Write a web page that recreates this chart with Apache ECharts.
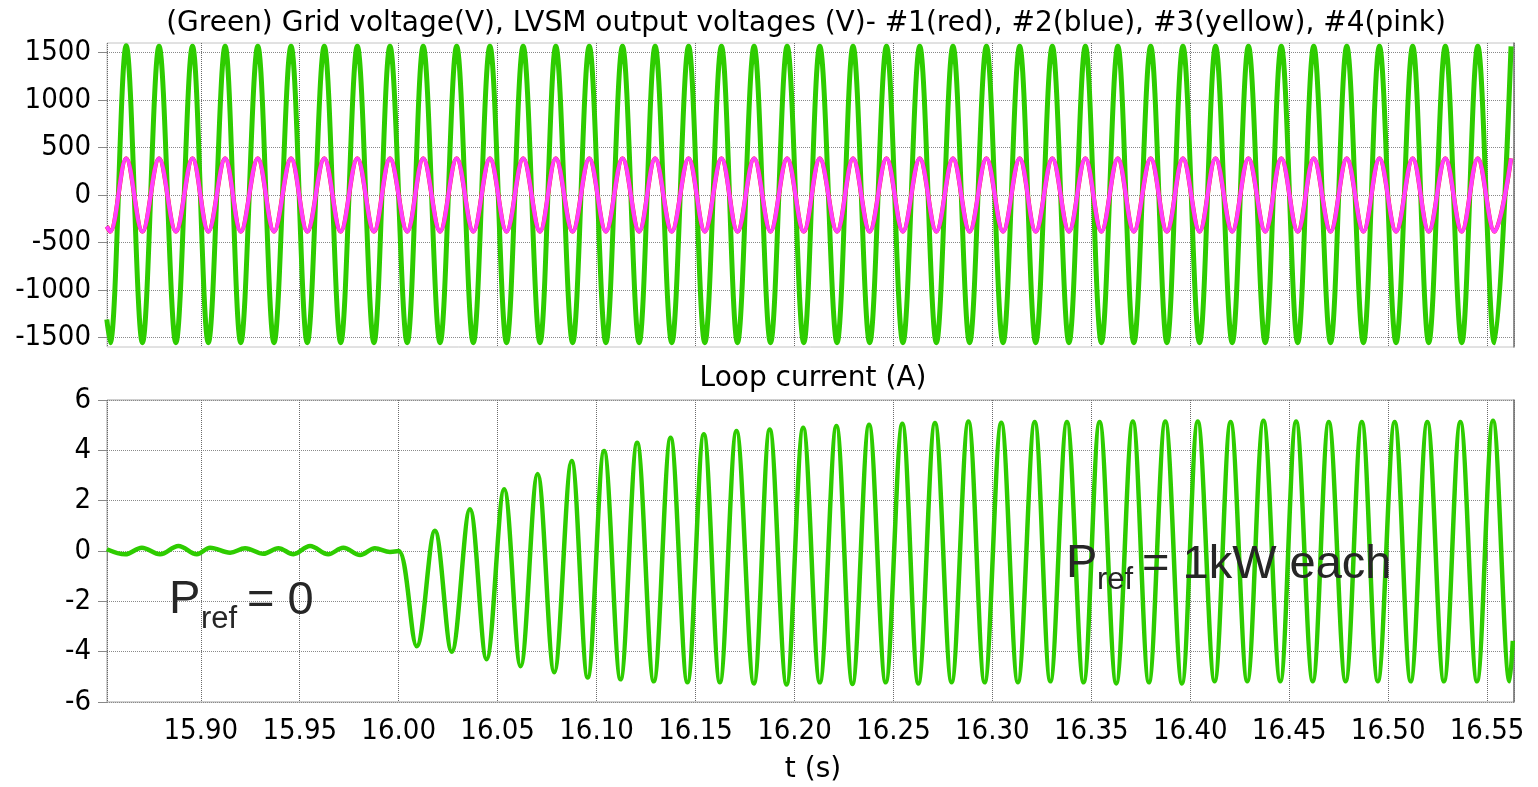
<!DOCTYPE html>
<html>
<head>
<meta charset="utf-8">
<script src="https://cdn.jsdelivr.net/npm/echarts@6.0.0/dist/echarts.min.js"></script>
<style>
html,body{margin:0;padding:0;background:#ffffff;}
#chart{width:1538px;height:787px;}
</style>
</head>
<body>
<div id="chart"></div>
<script>
// ---------- data ----------
// Extremum times (s) of the grid / LVSM voltages (they are in phase)
const voltTimes = [
  15.8525,
  15.8542, 15.8623, 15.8705, 15.8789, 15.8874, 15.8958, 15.9038, 15.9123, 15.9202, 15.9288,
  15.9370, 15.9456, 15.9538, 15.9624, 15.9707, 15.9791, 15.9875, 15.9956, 16.0043, 16.0124,
  16.0209, 16.0293, 16.0377, 16.0461, 16.0545, 16.0629, 16.0714, 16.0794, 16.0879, 16.0963,
  16.1047, 16.1131, 16.1215, 16.1296, 16.1380, 16.1465, 16.1547, 16.1631, 16.1712, 16.1796,
  16.1879, 16.1963, 16.2047, 16.2128, 16.2215, 16.2296, 16.2380, 16.2465, 16.2548, 16.2633,
  16.2717, 16.2801, 16.2885, 16.2970, 16.3054, 16.3138, 16.3219, 16.3303, 16.3387, 16.3470,
  16.3551, 16.3634, 16.3715, 16.3800, 16.3882, 16.3963, 16.4047, 16.4128, 16.4212, 16.4294,
  16.4379, 16.4460, 16.4543, 16.4624, 16.4709, 16.4791, 16.4875, 16.4956, 16.5040, 16.5124,
  16.5205, 16.5289, 16.5372, 16.5453, 16.5537, 16.5621
];
// Grid voltage (V), green
const gridVoltage = [
  -1310,
  -1555, 1570, -1555, 1565, -1555, 1565, -1555, 1565, -1555, 1565,
  -1555, 1565, -1555, 1565, -1555, 1565, -1555, 1565, -1555, 1565,
  -1555, 1565, -1555, 1565, -1555, 1565, -1555, 1565, -1555, 1565,
  -1555, 1565, -1555, 1565, -1555, 1565, -1555, 1565, -1555, 1565,
  -1555, 1565, -1555, 1565, -1555, 1565, -1555, 1565, -1555, 1565,
  -1555, 1565, -1555, 1565, -1555, 1565, -1555, 1565, -1555, 1565,
  -1555, 1565, -1555, 1565, -1555, 1565, -1555, 1565, -1555, 1565,
  -1555, 1565, -1555, 1565, -1555, 1565, -1555, 1565, -1555, 1565,
  -1555, 1565, -1555, 1565, -1555, 1565
];
// LVSM #1..#4 output voltage (V) - overlapping, pink on top
const lvsmVoltage = [
  -330,
  -385, 385, -385, 385, -385, 385, -385, 385, -385, 385,
  -385, 385, -385, 385, -385, 385, -385, 385, -385, 385,
  -385, 385, -385, 385, -385, 385, -385, 385, -385, 385,
  -385, 385, -385, 385, -385, 385, -385, 385, -385, 385,
  -385, 385, -385, 385, -385, 385, -385, 385, -385, 385,
  -385, 385, -385, 385, -385, 385, -385, 385, -385, 385,
  -385, 385, -385, 385, -385, 385, -385, 385, -385, 385,
  -385, 385, -385, 385, -385, 385, -385, 385, -385, 385,
  -385, 385, -385, 385, -385, 385
];
// Loop current: times (s) and values (A)
const currentTimes = [
  15.8525, 15.8618, 15.8702, 15.8794, 15.8887, 15.8980, 15.9047, 15.9148, 15.9224, 15.9316,
  15.9392, 15.9468, 15.9552, 15.9644, 15.9720, 15.9805, 15.9880, 15.9956, 16.0000,
  16.0091, 16.0183, 16.0268, 16.0360, 16.0444, 16.0533, 16.0616, 16.0702, 16.0786, 16.0874,
  16.0955, 16.1038, 16.1121, 16.1205, 16.1289, 16.1374, 16.1459, 16.1542, 16.1623, 16.1707,
  16.1795, 16.1875, 16.1960, 16.2044, 16.2128, 16.2212, 16.2293, 16.2377, 16.2461, 16.2545,
  16.2626, 16.2710, 16.2794, 16.2879, 16.2961, 16.3045, 16.3129, 16.3214, 16.3293, 16.3377,
  16.3461, 16.3542, 16.3626, 16.3710, 16.3791, 16.3874, 16.3958, 16.4038, 16.4123, 16.4204,
  16.4288, 16.4370, 16.4455, 16.4535, 16.4619, 16.4700, 16.4785, 16.4867, 16.4948, 16.5033,
  16.5114, 16.5198, 16.5282, 16.5365, 16.5449, 16.5530, 16.5614, 16.5630
];
const loopCurrent = [
  0.07, -0.13, 0.13, -0.13, 0.20, -0.13, 0.13, -0.07, 0.11, -0.11,
  0.11, -0.13, 0.20, -0.13, 0.13, -0.16, 0.11, -0.04, 0.00,
  -3.78, 0.80, -4.00, 1.66, -4.30, 2.45, -4.58, 3.06, -4.82, 3.58,
  -5.03, 3.97, -5.10, 4.30, -5.18, 4.50, -5.22, 4.64, -5.22, 4.77,
  -5.26, 4.83, -5.30, 4.90, -5.22, 4.97, -5.28, 5.02, -5.22, 5.06,
  -5.26, 5.09, -5.22, 5.15, -5.22, 5.10, -5.22, 5.13, -5.18, 5.13,
  -5.22, 5.13, -5.26, 5.15, -5.22, 5.15, -5.26, 5.15, -5.18, 5.13,
  -5.18, 5.18, -5.18, 5.15, -5.18, 5.13, -5.18, 5.13, -5.18, 5.13,
  -5.18, 5.13, -5.18, 5.13, -5.18, 5.18, -5.18, -3.57
];
// tick labels
const timeTicks = ['15.90','15.95','16.00','16.05','16.10','16.15','16.20','16.25','16.30','16.35','16.40','16.45','16.50','16.55'];
const voltTicks = [-1500, -1000, -500, 0, 500, 1000, 1500];
const currentTicks = [-6, -4, -2, 0, 2, 4, 6];

const titleTop = '(Green) Grid voltage(V), LVSM output voltages (V)- #1(red), #2(blue), #3(yellow), #4(pink)';
const titleBottom = 'Loop current (A)';
const xName = 't (s)';

// ---------- chart ----------
const FONT = "'DejaVu Sans Condensed', 'DejaVu Sans', sans-serif";
const TFONT = "'DejaVu Sans', sans-serif";
const ANN = "'Liberation Sans', Arial, sans-serif";
const GREEN = '#2ecc00';
const PINK = '#ff40ff';
const RED = '#ff2a2a';

const PL = 107, PW = 1407;
const T0 = 43, H0 = 304;           // top plot (data range -1600..1600)
const VMAX = 1600;
const pxPerV = H0 / (2 * VMAX);
const T1 = T0 + (VMAX - 1500) * pxPerV, H1 = 3000 * pxPerV; // label overlay grid
const T2 = 400, H2 = 302;          // bottom plot
const XMIN = 15.8526, XMAX = 16.5636;

const pairs = (ts, vs) => ts.map((t, i) => [t, vs[i]]);

const xLabelFmt = v => { const s = v.toFixed(2); return timeTicks.indexOf(s) >= 0 ? s : ''; };

const chart = echarts.init(document.getElementById('chart'), null, {renderer: 'canvas'});
chart.setOption({
  animation: false,
  backgroundColor: '#ffffff',
  grid: [
    {left: PL, width: PW, top: T0, height: H0, show: true, borderColor: '#c4c4c4', borderWidth: 1},
    {left: PL, width: PW, top: T1, height: H1, show: false},
    {left: PL, width: PW, top: T2, height: H2, show: true, borderColor: '#a0a0a0', borderWidth: 1}
  ],
  xAxis: [
    {gridIndex: 0, type: 'value', min: XMIN, max: XMAX, splitNumber: 14,
     axisLine: {show: false}, axisTick: {show: false}, axisLabel: {show: false},
     splitLine: {show: true, lineStyle: {color: '#6a6a6a', type: 'dotted', width: 1}}},
    {gridIndex: 1, type: 'value', min: 0, max: 1, show: false},
    {gridIndex: 2, type: 'value', min: XMIN, max: XMAX, splitNumber: 14,
     axisLine: {show: false},
     axisTick: {show: true, inside: false, length: 9, lineStyle: {color: '#888'}},
     axisLabel: {show: true, formatter: xLabelFmt, margin: 15, color: '#000', fontSize: 29, fontFamily: FONT},
     splitLine: {show: true, lineStyle: {color: '#6a6a6a', type: 'dotted', width: 1}}}
  ],
  yAxis: [
    {gridIndex: 0, type: 'value', min: -VMAX, max: VMAX, position: 'right',
     axisLine: {show: true, lineStyle: {color: '#777', width: 1.5}},
     axisTick: {show: false}, axisLabel: {show: false}, splitLine: {show: false}},
    {gridIndex: 1, type: 'value', min: voltTicks[0], max: voltTicks[voltTicks.length - 1], interval: 500,
     axisLine: {show: false},
     axisTick: {show: true, length: 9, lineStyle: {color: '#888'}},
     axisLabel: {show: true, margin: 16, color: '#000', fontSize: 29, fontFamily: FONT,
                 formatter: v => voltTicks.indexOf(v) >= 0 ? String(v) : ''},
     splitLine: {show: true, lineStyle: {color: '#8a8a8a', type: 'dotted', width: 1}}},
    {gridIndex: 2, type: 'value', min: currentTicks[0], max: currentTicks[currentTicks.length - 1], interval: 2,
     axisLine: {show: false},
     axisTick: {show: true, length: 9, lineStyle: {color: '#888'}},
     axisLabel: {show: true, margin: 16, color: '#000', fontSize: 29, fontFamily: FONT,
                 formatter: v => currentTicks.indexOf(v) >= 0 ? String(v) : ''},
     splitLine: {show: true, lineStyle: {color: '#8a8a8a', type: 'dotted', width: 1}}},
    {gridIndex: 2, type: 'value', min: -6, max: 6, position: 'right',
     axisLine: {show: true, lineStyle: {color: '#777', width: 1.5}},
     axisTick: {show: false}, axisLabel: {show: false}, splitLine: {show: false}}
  ],
  series: [
    {name: 'Grid voltage', type: 'line', xAxisIndex: 0, yAxisIndex: 0, data: pairs(voltTimes, gridVoltage),
     smooth: 0.36, showSymbol: false, lineStyle: {color: GREEN, width: 5}, z: 2},
    {name: 'LVSM #1', type: 'line', xAxisIndex: 0, yAxisIndex: 0, data: pairs(voltTimes, lvsmVoltage),
     smooth: 0.36, showSymbol: false, lineStyle: {color: RED, width: 4.5}, z: 3},
    {name: 'LVSM #4', type: 'line', xAxisIndex: 0, yAxisIndex: 0, data: pairs(voltTimes, lvsmVoltage),
     smooth: 0.36, showSymbol: false, lineStyle: {color: PINK, width: 4}, z: 4},
    {name: 'Loop current', type: 'line', xAxisIndex: 2, yAxisIndex: 2, data: pairs(currentTimes, loopCurrent),
     smooth: 0.36, showSymbol: false, lineStyle: {color: GREEN, width: 4.5}, z: 2}
  ],
  graphic: [
    {type: 'text', x: 806, y: 24, z: 100, style: {text: titleTop, font: '28px ' + TFONT, fill: '#000', align: 'center', verticalAlign: 'middle'}},
    {type: 'text', x: 813, y: 379, z: 100, style: {text: titleBottom, font: '28px ' + TFONT, fill: '#000', align: 'center', verticalAlign: 'middle'}},
    {type: 'text', x: 813, y: 770, z: 100, style: {text: xName, font: '28px ' + TFONT, fill: '#000', align: 'center', verticalAlign: 'middle'}},
    {type: 'text', x: 169, y: 600, z: 100, style: {text: 'P', font: '47px ' + ANN, fill: '#262626', align: 'left', verticalAlign: 'middle'}},
    {type: 'text', x: 201, y: 619, z: 100, style: {text: 'ref', font: '31px ' + ANN, fill: '#262626', align: 'left', verticalAlign: 'middle'}},
    {type: 'text', x: 247, y: 601, z: 100, style: {text: '= 0', font: '47px ' + ANN, fill: '#262626', align: 'left', verticalAlign: 'middle'}},
    {type: 'text', x: 1066, y: 564, z: 100, style: {text: 'P', font: '47px ' + ANN, fill: '#262626', align: 'left', verticalAlign: 'middle'}},
    {type: 'text', x: 1097, y: 580, z: 100, style: {text: 'ref', font: '31px ' + ANN, fill: '#262626', align: 'left', verticalAlign: 'middle'}},
    {type: 'text', x: 1142, y: 565, z: 100, style: {text: '= 1kW each', font: '47px ' + ANN, fill: '#262626', align: 'left', verticalAlign: 'middle'}}
  ]
});
</script>
</body>
</html>
